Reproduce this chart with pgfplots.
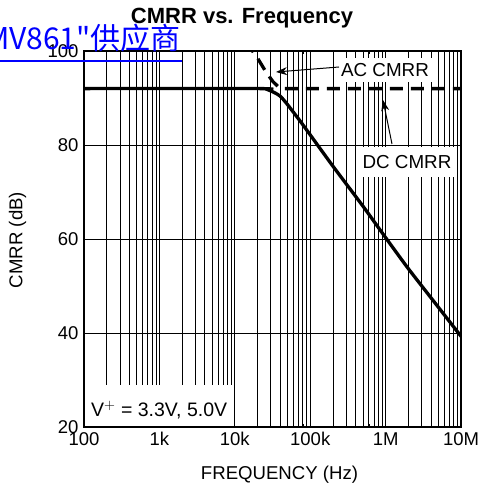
\documentclass[border=0pt]{standalone}
\usepackage{fontspec}
\setmainfont{Liberation Sans}
\newfontfamily\cjk{Noto Sans CJK SC}
\usepackage{pgfplots}
\pgfplotsset{compat=1.18}
\usetikzlibrary{arrows.meta}
\begin{document}
\begin{tikzpicture}
\path[use as bounding box] (0pt,0pt) rectangle (483pt,490pt);
\begin{axis}[at={(84pt,63pt)}, anchor=south west, scale only axis,
  width=377pt, height=376pt,
  xmode=log, xmin=100, xmax=1e7, ymin=20, ymax=100,
  xtick={100,1000,10000,100000,1000000,10000000},
  xticklabels={100,1k,10k,100k,1M,10M},
  ytick={20,40,60,80,100},
  xmajorgrids=true, xminorgrids=true, ymajorgrids=true,
  major grid style={black, line width=0.8pt},
  minor grid style={black, line width=0.8pt},
  axis line style={black, line width=1.2pt},
  tick style={black, line width=0.7pt},
  tick align=inside, major tick length=5pt, minor tick length=3pt,
  ticklabel style={font=\fontsize{18.5}{20}\selectfont},
  /pgf/number format/assume math mode=true,
  yticklabel style={xshift=-2pt},
  xticklabel style={yshift=-2pt},
  clip=true]
\addplot[black, line width=3.3pt, smooth, tension=0.4] coordinates {
  (100,92) (22000,92) (28000,91.7) (33000,91.2) (40000,90.4) (50000,88.6)
  (80000,84.3) (200000,75.5) (500000,67) (1000000,60.3) (2000000,53.7)
  (5000000,45.5) (10000000,39.3)};
\addplot[black, line width=3.3pt, dash pattern=on 13pt off 8pt] coordinates {
  (14000,102) (20000,98.5) (26000,95.5) (32000,93.5) (40000,92) (10000000,92)};
\end{axis}
% V+ box
\fill[white] (84.8pt,63.8pt) rectangle (232pt,105pt);
\node[anchor=base west, inner sep=0pt, font=\fontsize{19.5}{21}\selectfont] at (91pt,73pt) {V$^{+}$ = 3.3V, 5.0V};
% labels
\node[fill=white, inner xsep=4pt, inner ysep=5pt, font=\fontsize{18.8}{20}\selectfont] at (385pt,420pt) {AC CMRR};
\node[fill=white, inner xsep=5pt, inner ysep=8pt, font=\fontsize{18.8}{20}\selectfont] at (407pt,328pt) {DC CMRR};
\draw[line width=1pt, -{Stealth[length=11pt,width=8pt]}] (339pt,423pt) -- (276pt,418pt);
\draw[line width=1pt, -{Stealth[length=11pt,width=8pt]}] (392pt,346pt) -- (383pt,390pt);
% title and axis labels
\node[anchor=base, inner sep=0pt, font=\fontsize{22}{24}\selectfont\bfseries] at (242pt,466pt) {CMRR vs. Frequency};
\node[anchor=center, inner sep=0pt, font=\fontsize{18.6}{20}\selectfont] at (279.5pt,15pt) {FREQUENCY (Hz)};
\node[anchor=center, inner sep=0pt, rotate=90, font=\fontsize{18.6}{20}\selectfont] at (17.5pt,250pt) {CMRR (dB)};
% watermark link
\node[anchor=base east, inner sep=0pt, text=blue, font=\cjk\fontsize{30}{32}\selectfont] at (181pt,440pt) {LMV861"供应商};
\draw[blue, line width=1.3pt] (0pt,429pt) -- (182pt,429pt);
\end{tikzpicture}
\end{document}
